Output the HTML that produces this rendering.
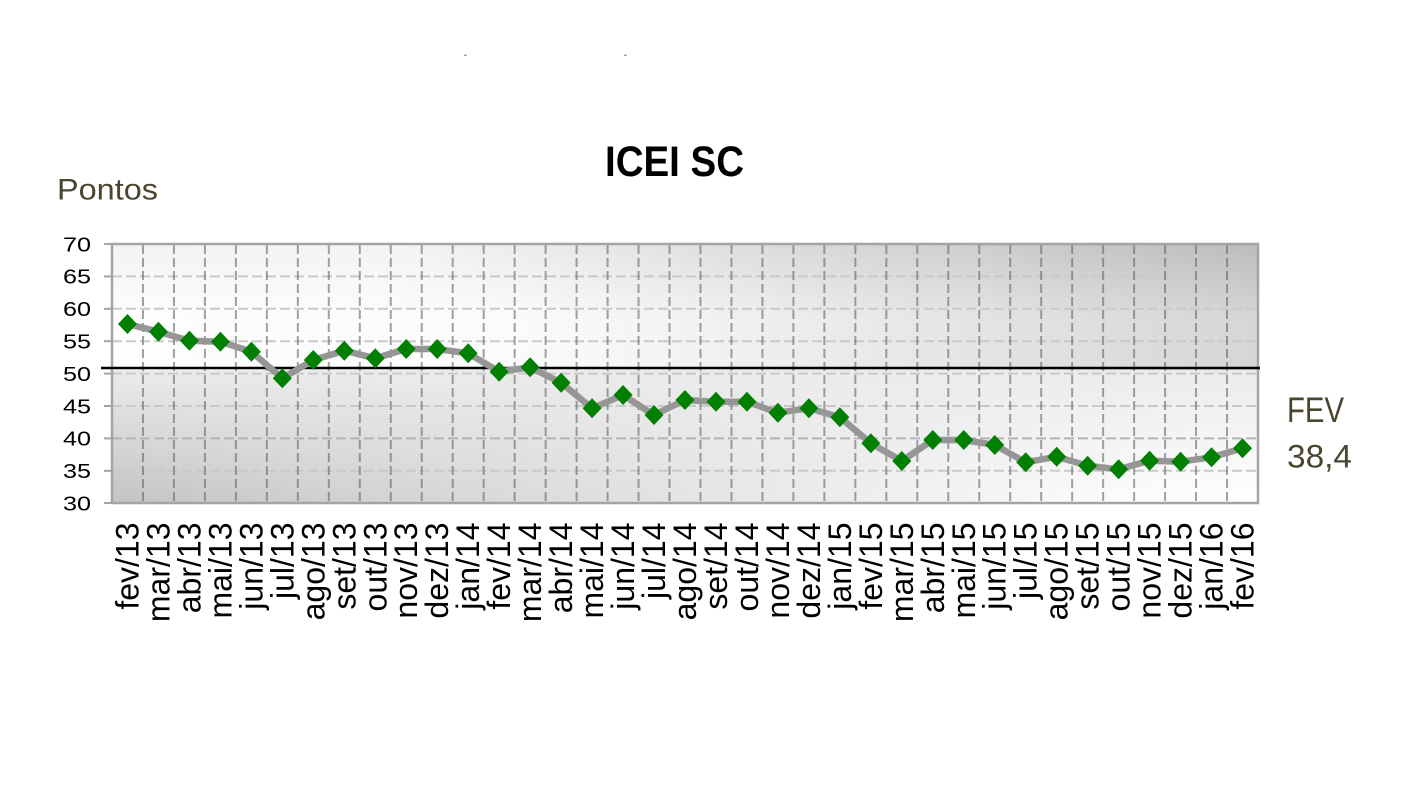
<!DOCTYPE html>
<html><head><meta charset="utf-8"><style>
html,body{margin:0;padding:0;background:#fff;}
svg{display:block;}
</style></head><body>
<svg width="1416" height="800" viewBox="0 0 1416 800" xmlns="http://www.w3.org/2000/svg">
<defs>
<linearGradient id="upTop" x1="0" y1="0" x2="1" y2="0">
<stop offset="0" stop-color="#f3f3f3"/>
<stop offset="0.25" stop-color="#f4f4f4"/>
<stop offset="1" stop-color="#bcbcbc"/>
</linearGradient>
<linearGradient id="upBot" x1="0" y1="0" x2="1" y2="0">
<stop offset="0" stop-color="#fdfdfd"/>
<stop offset="0.35" stop-color="#fbfbfb"/>
<stop offset="1" stop-color="#d6d6d6"/>
</linearGradient>
<linearGradient id="loBot" x1="0" y1="0" x2="1" y2="0">
<stop offset="0" stop-color="#c4c4c4"/>
<stop offset="0.85" stop-color="#fbfbfb"/>
<stop offset="1" stop-color="#ffffff"/>
</linearGradient>
<linearGradient id="vDown" x1="0" y1="0" x2="0" y2="1">
<stop offset="0" stop-color="#000"/>
<stop offset="0.6" stop-color="#fff"/>
<stop offset="1" stop-color="#fff"/>
</linearGradient>
<linearGradient id="vUp" x1="0" y1="0" x2="0" y2="1">
<stop offset="0" stop-color="#fff"/>
<stop offset="1" stop-color="#000"/>
</linearGradient>
<mask id="mUp" maskUnits="userSpaceOnUse" x="112" y="244" width="1146" height="126">
<rect x="112" y="244" width="1146" height="126" fill="url(#vDown)"/>
</mask>
<mask id="mLo" maskUnits="userSpaceOnUse" x="112" y="370" width="1146" height="133">
<rect x="112" y="370" width="1146" height="133" fill="url(#vUp)"/>
</mask>
</defs>
<rect x="0" y="0" width="1416" height="800" fill="#fff"/>
<rect x="464" y="54.5" width="3" height="1.5" fill="#aaa"/>
<rect x="624" y="54.5" width="3" height="1.5" fill="#aaa"/>

<text x="605" y="176" font-family="Liberation Sans, Arial, sans-serif" font-weight="bold" font-size="43" textLength="139" lengthAdjust="spacingAndGlyphs" fill="#000">ICEI SC</text>
<text x="57" y="199.5" font-family="Liberation Sans, Arial, sans-serif" font-size="30" textLength="101" lengthAdjust="spacingAndGlyphs" fill="#4a452f">Pontos</text>
<text x="1287" y="422" font-family="Liberation Sans, Arial, sans-serif" font-size="35" textLength="57" lengthAdjust="spacingAndGlyphs" fill="#4a452f">FEV</text>
<text x="1287" y="467.5" font-family="Liberation Sans, Arial, sans-serif" font-size="32" textLength="65" lengthAdjust="spacingAndGlyphs" fill="#4a452f">38,4</text>

<rect x="112" y="244" width="1146" height="126" fill="url(#upTop)"/>
<rect x="112" y="244" width="1146" height="126" fill="url(#upBot)" mask="url(#mUp)"/>
<rect x="112" y="370" width="1146" height="133" fill="url(#loBot)"/>
<rect x="112" y="370" width="1146" height="133" fill="#ebebeb" mask="url(#mLo)"/>

<g stroke="#c9c9c9" stroke-width="2" stroke-dasharray="10 4" fill="none">
<line x1="112" y1="276.4" x2="1258" y2="276.4"/>
<line x1="112" y1="308.8" x2="1258" y2="308.8"/>
<line x1="112" y1="341.2" x2="1258" y2="341.2"/>
<line x1="112" y1="373.6" x2="1258" y2="373.6"/>
<line x1="112" y1="406" x2="1258" y2="406"/>
<line x1="112" y1="438.4" x2="1258" y2="438.4" stroke="#b4b4b4"/>
<line x1="112" y1="470.8" x2="1258" y2="470.8"/>
</g>

<g stroke="rgba(100,100,100,0.6)" stroke-width="2" stroke-dasharray="9 4" fill="none">
<line x1="142.97" y1="245" x2="142.97" y2="502"/>
<line x1="173.95" y1="245" x2="173.95" y2="502"/>
<line x1="204.92" y1="245" x2="204.92" y2="502"/>
<line x1="235.89" y1="245" x2="235.89" y2="502"/>
<line x1="266.86" y1="245" x2="266.86" y2="502"/>
<line x1="297.84" y1="245" x2="297.84" y2="502"/>
<line x1="328.81" y1="245" x2="328.81" y2="502"/>
<line x1="359.78" y1="245" x2="359.78" y2="502"/>
<line x1="390.76" y1="245" x2="390.76" y2="502"/>
<line x1="421.73" y1="245" x2="421.73" y2="502"/>
<line x1="452.70" y1="245" x2="452.70" y2="502"/>
<line x1="483.68" y1="245" x2="483.68" y2="502"/>
<line x1="514.65" y1="245" x2="514.65" y2="502"/>
<line x1="545.62" y1="245" x2="545.62" y2="502"/>
<line x1="576.59" y1="245" x2="576.59" y2="502"/>
<line x1="607.57" y1="245" x2="607.57" y2="502"/>
<line x1="638.54" y1="245" x2="638.54" y2="502"/>
<line x1="669.51" y1="245" x2="669.51" y2="502"/>
<line x1="700.49" y1="245" x2="700.49" y2="502"/>
<line x1="731.46" y1="245" x2="731.46" y2="502"/>
<line x1="762.43" y1="245" x2="762.43" y2="502"/>
<line x1="793.41" y1="245" x2="793.41" y2="502"/>
<line x1="824.38" y1="245" x2="824.38" y2="502"/>
<line x1="855.35" y1="245" x2="855.35" y2="502"/>
<line x1="886.32" y1="245" x2="886.32" y2="502"/>
<line x1="917.30" y1="245" x2="917.30" y2="502"/>
<line x1="948.27" y1="245" x2="948.27" y2="502"/>
<line x1="979.24" y1="245" x2="979.24" y2="502"/>
<line x1="1010.22" y1="245" x2="1010.22" y2="502"/>
<line x1="1041.19" y1="245" x2="1041.19" y2="502"/>
<line x1="1072.16" y1="245" x2="1072.16" y2="502"/>
<line x1="1103.14" y1="245" x2="1103.14" y2="502"/>
<line x1="1134.11" y1="245" x2="1134.11" y2="502"/>
<line x1="1165.08" y1="245" x2="1165.08" y2="502"/>
<line x1="1196.05" y1="245" x2="1196.05" y2="502"/>
<line x1="1227.03" y1="245" x2="1227.03" y2="502"/>
</g>

<rect x="112" y="244" width="1146" height="259" fill="none" stroke="#a4a4a4" stroke-width="2.5"/>
<g stroke="#a4a4a4" stroke-width="2">
<line x1="104" y1="244" x2="112" y2="244"/>
<line x1="104" y1="276.4" x2="112" y2="276.4"/>
<line x1="104" y1="308.8" x2="112" y2="308.8"/>
<line x1="104" y1="341.2" x2="112" y2="341.2"/>
<line x1="104" y1="373.6" x2="112" y2="373.6"/>
<line x1="104" y1="406" x2="112" y2="406"/>
<line x1="104" y1="438.4" x2="112" y2="438.4"/>
<line x1="104" y1="470.8" x2="112" y2="470.8"/>
<line x1="104" y1="503" x2="112" y2="503"/>
</g>

<line x1="101" y1="368" x2="1260" y2="368" stroke="#000" stroke-width="2.5"/>

<g font-family="Liberation Sans, Arial, sans-serif" font-size="20.5" fill="#000">
<text x="63" y="251.3" textLength="28" lengthAdjust="spacingAndGlyphs">70</text>
<text x="63" y="283.7" textLength="28" lengthAdjust="spacingAndGlyphs">65</text>
<text x="63" y="316.1" textLength="28" lengthAdjust="spacingAndGlyphs">60</text>
<text x="63" y="348.5" textLength="28" lengthAdjust="spacingAndGlyphs">55</text>
<text x="63" y="380.9" textLength="28" lengthAdjust="spacingAndGlyphs">50</text>
<text x="63" y="413.3" textLength="28" lengthAdjust="spacingAndGlyphs">45</text>
<text x="63" y="445.7" textLength="28" lengthAdjust="spacingAndGlyphs">40</text>
<text x="63" y="478.1" textLength="28" lengthAdjust="spacingAndGlyphs">35</text>
<text x="63" y="510.3" textLength="28" lengthAdjust="spacingAndGlyphs">30</text>
</g>

<polyline fill="none" stroke="#969696" stroke-width="6.5" stroke-linejoin="round" points="127.49,324 158.46,331.7 189.43,340.7 220.41,341.7 251.38,351.7 282.35,378.3 313.32,360 344.30,350.7 375.27,358.3 406.24,349 437.22,349 468.19,353.3 499.16,371.7 530.14,367.3 561.11,382.7 592.08,408.3 623.05,395 654.03,415 685.00,400 715.97,401.7 746.95,401.7 777.92,412.7 808.89,408.3 839.86,417.3 870.84,443.3 901.81,461 932.78,440 963.76,440 994.73,445 1025.70,462.3 1056.68,456.7 1087.65,465.7 1118.62,469.3 1149.59,460.7 1180.57,461.7 1211.54,457.3 1242.51,448.3"/>

<g fill="#007f00">
<path d="M127.49 314l9.5 10-9.5 10-9.5-10z"/>
<path d="M158.46 321.7l9.5 10-9.5 10-9.5-10z"/>
<path d="M189.43 330.7l9.5 10-9.5 10-9.5-10z"/>
<path d="M220.41 331.7l9.5 10-9.5 10-9.5-10z"/>
<path d="M251.38 341.7l9.5 10-9.5 10-9.5-10z"/>
<path d="M282.35 368.3l9.5 10-9.5 10-9.5-10z"/>
<path d="M313.32 350l9.5 10-9.5 10-9.5-10z"/>
<path d="M344.30 340.7l9.5 10-9.5 10-9.5-10z"/>
<path d="M375.27 348.3l9.5 10-9.5 10-9.5-10z"/>
<path d="M406.24 339l9.5 10-9.5 10-9.5-10z"/>
<path d="M437.22 339l9.5 10-9.5 10-9.5-10z"/>
<path d="M468.19 343.3l9.5 10-9.5 10-9.5-10z"/>
<path d="M499.16 361.7l9.5 10-9.5 10-9.5-10z"/>
<path d="M530.14 357.3l9.5 10-9.5 10-9.5-10z"/>
<path d="M561.11 372.7l9.5 10-9.5 10-9.5-10z"/>
<path d="M592.08 398.3l9.5 10-9.5 10-9.5-10z"/>
<path d="M623.05 385l9.5 10-9.5 10-9.5-10z"/>
<path d="M654.03 405l9.5 10-9.5 10-9.5-10z"/>
<path d="M685.00 390l9.5 10-9.5 10-9.5-10z"/>
<path d="M715.97 391.7l9.5 10-9.5 10-9.5-10z"/>
<path d="M746.95 391.7l9.5 10-9.5 10-9.5-10z"/>
<path d="M777.92 402.7l9.5 10-9.5 10-9.5-10z"/>
<path d="M808.89 398.3l9.5 10-9.5 10-9.5-10z"/>
<path d="M839.86 407.3l9.5 10-9.5 10-9.5-10z"/>
<path d="M870.84 433.3l9.5 10-9.5 10-9.5-10z"/>
<path d="M901.81 451l9.5 10-9.5 10-9.5-10z"/>
<path d="M932.78 430l9.5 10-9.5 10-9.5-10z"/>
<path d="M963.76 430l9.5 10-9.5 10-9.5-10z"/>
<path d="M994.73 435l9.5 10-9.5 10-9.5-10z"/>
<path d="M1025.70 452.3l9.5 10-9.5 10-9.5-10z"/>
<path d="M1056.68 446.7l9.5 10-9.5 10-9.5-10z"/>
<path d="M1087.65 455.7l9.5 10-9.5 10-9.5-10z"/>
<path d="M1118.62 459.3l9.5 10-9.5 10-9.5-10z"/>
<path d="M1149.59 450.7l9.5 10-9.5 10-9.5-10z"/>
<path d="M1180.57 451.7l9.5 10-9.5 10-9.5-10z"/>
<path d="M1211.54 447.3l9.5 10-9.5 10-9.5-10z"/>
<path d="M1242.51 438.3l9.5 10-9.5 10-9.5-10z"/>
</g>

<g font-family="Liberation Sans, Arial, sans-serif" font-size="32" fill="#000" text-anchor="end">
<text transform="translate(138.49,522.5) rotate(-90)">fev/13</text>
<text transform="translate(169.46,522.5) rotate(-90)">mar/13</text>
<text transform="translate(200.43,522.5) rotate(-90)">abr/13</text>
<text transform="translate(231.41,522.5) rotate(-90)">mai/13</text>
<text transform="translate(262.38,522.5) rotate(-90)">jun/13</text>
<text transform="translate(293.35,522.5) rotate(-90)">jul/13</text>
<text transform="translate(324.32,522.5) rotate(-90)">ago/13</text>
<text transform="translate(355.30,522.5) rotate(-90)">set/13</text>
<text transform="translate(386.27,522.5) rotate(-90)">out/13</text>
<text transform="translate(417.24,522.5) rotate(-90)">nov/13</text>
<text transform="translate(448.22,522.5) rotate(-90)">dez/13</text>
<text transform="translate(479.19,522.5) rotate(-90)">jan/14</text>
<text transform="translate(510.16,522.5) rotate(-90)">fev/14</text>
<text transform="translate(541.14,522.5) rotate(-90)">mar/14</text>
<text transform="translate(572.11,522.5) rotate(-90)">abr/14</text>
<text transform="translate(603.08,522.5) rotate(-90)">mai/14</text>
<text transform="translate(634.05,522.5) rotate(-90)">jun/14</text>
<text transform="translate(665.03,522.5) rotate(-90)">jul/14</text>
<text transform="translate(696.00,522.5) rotate(-90)">ago/14</text>
<text transform="translate(726.97,522.5) rotate(-90)">set/14</text>
<text transform="translate(757.95,522.5) rotate(-90)">out/14</text>
<text transform="translate(788.92,522.5) rotate(-90)">nov/14</text>
<text transform="translate(819.89,522.5) rotate(-90)">dez/14</text>
<text transform="translate(850.86,522.5) rotate(-90)">jan/15</text>
<text transform="translate(881.84,522.5) rotate(-90)">fev/15</text>
<text transform="translate(912.81,522.5) rotate(-90)">mar/15</text>
<text transform="translate(943.78,522.5) rotate(-90)">abr/15</text>
<text transform="translate(974.76,522.5) rotate(-90)">mai/15</text>
<text transform="translate(1005.73,522.5) rotate(-90)">jun/15</text>
<text transform="translate(1036.70,522.5) rotate(-90)">jul/15</text>
<text transform="translate(1067.68,522.5) rotate(-90)">ago/15</text>
<text transform="translate(1098.65,522.5) rotate(-90)">set/15</text>
<text transform="translate(1129.62,522.5) rotate(-90)">out/15</text>
<text transform="translate(1160.59,522.5) rotate(-90)">nov/15</text>
<text transform="translate(1191.57,522.5) rotate(-90)">dez/15</text>
<text transform="translate(1222.54,522.5) rotate(-90)">jan/16</text>
<text transform="translate(1253.51,522.5) rotate(-90)">fev/16</text>
</g>
</svg>
</body></html>
